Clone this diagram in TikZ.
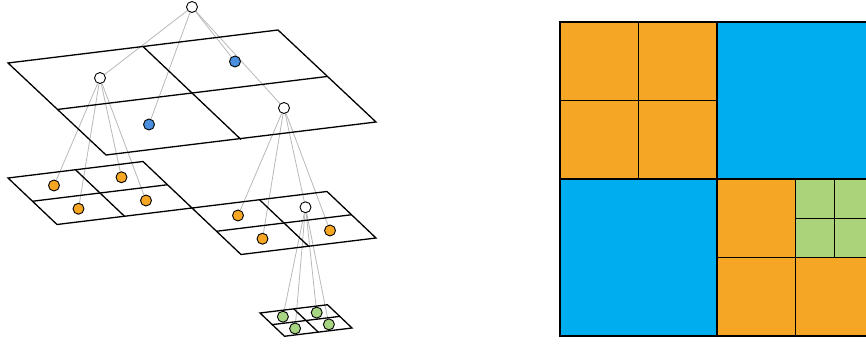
\documentclass[tikz,border=0pt]{standalone}
\usepackage{tikz}
\usetikzlibrary{backgrounds}
\definecolor{cellorange}{HTML}{F4A624}
\definecolor{cellblue}{HTML}{00ADEE}
\definecolor{cellgreen}{HTML}{ABD47A}
\definecolor{dotblue}{HTML}{4A8FDE}
\definecolor{dotorange}{HTML}{F5A623}
\definecolor{dotgreen}{HTML}{A8D582}

\begin{document}
\begin{tikzpicture}[
    x=1pt,y=-1pt,
    plane/.style={              % Outlines of the tree levels.
      draw,
      line width=1.3pt,
      line join=miter
    },
    vertex/.style={             % Tree nodes.
      circle,
      draw,
      fill=white,
      line width=0.9pt,
      minimum size=11pt,
      inner sep=0pt
    },
    link/.style={               % Parent to child edges.
      draw=black!28,
      line width=0.8pt
    },
    cell/.style={               % Squares of the flat subdivision.
      draw,
      line width=1.2pt
    }]

    \useasboundingbox (0,0) rectangle (866,344);

    % Draw the planes of the tree levels.
    \draw[plane] (8,63) -- (278,30) -- (376,122) -- (106,155) -- cycle;
    \draw[plane] (57,109.5) -- (327,76.5);
    \draw[plane] (143,46.5) -- (241,139.5);

    \draw[plane] (8,178) -- (143,161.5) -- (192,208) -- (57,224.5) -- cycle;
    \draw[plane] (32.5,201.25) -- (167.5,184.75);
    \draw[plane] (75.5,169.75) -- (124.5,216.25);

    \draw[plane] (192,208) -- (327,191.5) -- (376,238) -- (241,254.5) -- cycle;
    \draw[plane] (216.5,231.25) -- (351.5,214.75);
    \draw[plane] (259.5,199.75) -- (308.5,246.25);

    \draw[plane] (260,313) -- (327.5,304.75) -- (352,328) -- (284.5,336.25) -- cycle;
    \draw[plane] (272.25,324.625) -- (339.75,316.375);
    \draw[plane] (293.75,308.875) -- (318.25,332.125);

    % Place the tree nodes.
    \node[vertex] (root) at (192,7) {};
    \node[vertex] (n0) at (100,78) {};
    \node[vertex,fill=dotblue] (n1) at (235,61.5) {};
    \node[vertex,fill=dotblue] (n2) at (149,124.5) {};
    \node[vertex] (n3) at (284,108) {};

    \node[vertex,fill=dotorange] (n00) at (54,185.5) {};
    \node[vertex,fill=dotorange] (n01) at (121.5,177.25) {};
    \node[vertex,fill=dotorange] (n02) at (78.5,208.75) {};
    \node[vertex,fill=dotorange] (n03) at (146,200.5) {};

    \node[vertex,fill=dotorange] (n30) at (238,215.5) {};
    \node[vertex] (n31) at (305.5,207.25) {};
    \node[vertex,fill=dotorange] (n32) at (262.5,238.75) {};
    \node[vertex,fill=dotorange] (n33) at (330,230.5) {};

    \node[vertex,fill=dotgreen] (n310) at (282.9,316.7) {};
    \node[vertex,fill=dotgreen] (n311) at (316.7,312.6) {};
    \node[vertex,fill=dotgreen] (n312) at (295.1,328.5) {};
    \node[vertex,fill=dotgreen] (n313) at (328.9,324.4) {};

    % Connect each parent to its children.
    \begin{pgfonlayer}{background}
      \foreach \c in {n0,n1,n2,n3}
        \draw[link] (root) -- (\c);
      \foreach \c in {n00,n01,n02,n03}
        \draw[link] (n0) -- (\c);
      \foreach \c in {n30,n31,n32,n33}
        \draw[link] (n3) -- (\c);
      \foreach \c in {n310,n311,n312,n313}
        \draw[link] (n31) -- (\c);
    \end{pgfonlayer}

    % Flat view of the same subdivision.
    \draw[cell,fill=cellorange] (560,22) rectangle (638.5,100.5);
    \draw[cell,fill=cellorange] (638.5,22) rectangle (717,100.5);
    \draw[cell,fill=cellorange] (560,100.5) rectangle (638.5,179);
    \draw[cell,fill=cellorange] (638.5,100.5) rectangle (717,179);
    \draw[cell,fill=cellblue] (717,22) rectangle (874,179);
    \draw[cell,fill=cellblue] (560,179) rectangle (717,336);
    \draw[cell,fill=cellorange] (717,179) rectangle (795.5,257.5);
    \draw[cell,fill=cellgreen] (795.5,179) rectangle (834.75,218.25);
    \draw[cell,fill=cellgreen] (834.75,179) rectangle (874,218.25);
    \draw[cell,fill=cellgreen] (795.5,218.25) rectangle (834.75,257.5);
    \draw[cell,fill=cellgreen] (834.75,218.25) rectangle (874,257.5);
    \draw[cell,fill=cellorange] (717,257.5) rectangle (795.5,336);
    \draw[cell,fill=cellorange] (795.5,257.5) rectangle (874,336);
\end{tikzpicture}
\end{document}
